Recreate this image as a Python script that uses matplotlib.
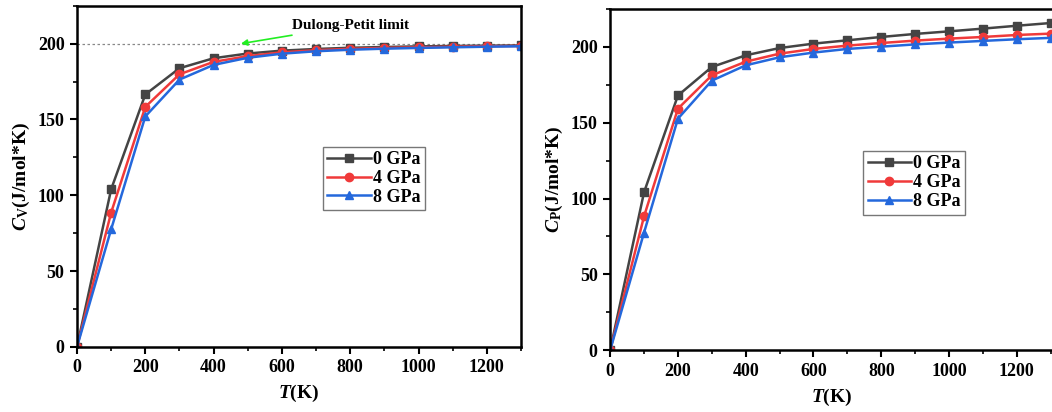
import matplotlib.pyplot as plt
from matplotlib.ticker import MultipleLocator

plt.rcParams['font.family'] = ['Liberation Serif', 'DejaVu Serif']
plt.rcParams['font.weight'] = 'bold'
plt.rcParams['mathtext.fontset'] = 'custom'
plt.rcParams['mathtext.rm'] = 'Liberation Serif:bold'
plt.rcParams['mathtext.it'] = 'Liberation Serif:italic:bold'
plt.rcParams['mathtext.bf'] = 'Liberation Serif:bold'

# 温度 (K)
T = [0, 100, 200, 300, 400, 500, 600, 700, 800, 900, 1000, 1100, 1200, 1300]

# 定容热容 Cv
cv_0 = [0, 104.0, 166.5, 183.8, 190.4, 193.5, 195.4, 196.5, 197.3, 197.8, 198.2, 198.5, 198.7, 198.8]
cv_4 = [0, 88.6, 158.3, 179.8, 188.0, 191.8, 194.3, 195.7, 196.6, 197.2, 197.6, 198.0, 198.3, 198.5]
cv_8 = [0, 77.6, 152.0, 176.3, 186.0, 190.7, 193.4, 195.0, 196.0, 196.7, 197.2, 197.6, 198.0, 198.3]

# 定压热容 Cp
cp_0 = [0, 104.2, 168.0, 186.8, 194.5, 199.3, 202.2, 204.4, 206.6, 208.6, 210.3, 212.1, 214.0, 215.8]
cp_4 = [0, 88.3, 159.3, 181.3, 190.3, 195.6, 198.7, 200.9, 202.6, 204.2, 205.5, 206.6, 207.9, 208.8]
cp_8 = [0, 77.6, 152.7, 177.8, 187.9, 193.2, 196.3, 198.7, 200.2, 201.7, 202.9, 204.0, 205.1, 206.0]

labels = ['0 GPa', '4 GPa', '8 GPa']
colors = ['#444444', '#f03a3a', '#2468dc']
markers = ['s', 'o', '^']

fig = plt.figure(figsize=(10.52, 4.12), dpi=100)
ax1 = fig.add_axes([0.0732, 0.158, 0.422, 0.828])
ax2 = fig.add_axes([0.580, 0.150, 0.422, 0.828])


def style_axes(ax, ylabel, xmax):
    ax.set_xlim(0, xmax)
    ax.set_ylim(0, 225)
    ax.xaxis.set_major_locator(MultipleLocator(200))
    ax.xaxis.set_minor_locator(MultipleLocator(100))
    ax.yaxis.set_major_locator(MultipleLocator(50))
    ax.yaxis.set_minor_locator(MultipleLocator(25))
    ax.tick_params(which='major', direction='out', length=5, width=1.5, labelsize=13, pad=4)
    ax.tick_params(which='minor', direction='out', length=3, width=1.2)
    for s in ax.spines.values():
        s.set_linewidth(1.8)
    ax.set_xlabel(r'$T$(K)', fontsize=14, fontweight='bold', labelpad=5)
    ax.set_ylabel(ylabel, fontsize=14, fontweight='bold', labelpad=4)


for ys, lab, c, m in zip([cv_0, cv_4, cv_8], labels, colors, markers):
    ax1.plot(T, ys, color=c, marker=m, markersize=6, linewidth=1.8, label=lab)
for ys, lab, c, m in zip([cp_0, cp_4, cp_8], labels, colors, markers):
    ax2.plot(T, ys, color=c, marker=m, markersize=6, linewidth=1.8, label=lab)

style_axes(ax1, r'$C_\mathrm{V}$(J/mol*K)', 1300)
style_axes(ax2, r'$C_\mathrm{P}$(J/mol*K)', 1310)

# Dulong-Petit 极限
ax1.axhline(200, color='#888888', linestyle=(0, (2, 2)), linewidth=0.9, zorder=1)
ax1.annotate('Dulong-Petit limit', xy=(480, 200), xytext=(630, 212),
             fontsize=11, fontweight='bold', va='center', ha='left',
             arrowprops=dict(arrowstyle='-|>', color='#22ee22', lw=1.2,
                             mutation_scale=9, shrinkA=2, shrinkB=0))

for ax, anchor in [(ax1, (0.554, 0.587)), (ax2, (0.57, 0.584))]:
    leg = ax.legend(loc='upper left', bbox_to_anchor=anchor, fontsize=13,
                    frameon=True, fancybox=False, edgecolor='#555555',
                    handlelength=2.4, handletextpad=0.1, borderpad=0.25,
                    labelspacing=0.1, borderaxespad=0)
    leg.get_frame().set_linewidth(1.0)

fig.savefig('out.png', dpi=100)
